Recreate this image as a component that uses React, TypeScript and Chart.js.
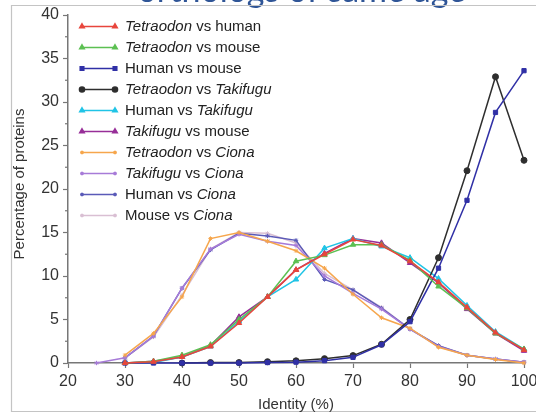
import React, { useEffect, useRef } from 'react';
import { Chart, registerables } from 'chart.js';
import { drawPoint } from 'chart.js/helpers';

Chart.register(...registerables);

const identity = [25, 30, 35, 40, 45, 50, 55, 60, 65, 70, 75, 80, 85, 90, 95, 100];

const tetraodonHuman = [null, 0, 0.15, 0.7, 1.9, 4.6, 7.6, 10.7, 12.5, 14.2, 13.5, 11.7, 9.3, 6.4, 3.5, 1.5];
const tetraodonMouse = [null, 0, 0.2, 0.9, 2.1, 5.0, 7.6, 11.7, 12.4, 13.6, 13.6, 11.8, 8.8, 6.3, 3.4, 1.6];
const humanMouse = [null, 0, 0, 0, 0, 0, 0.05, 0.1, 0.27, 0.65, 2.1, 4.75, 10.9, 18.7, 28.8, 33.6];
const tetraodonTakifugu = [null, null, null, 0, 0.05, 0.05, 0.15, 0.25, 0.5, 0.85, 2.15, 5.0, 12.1, 22.1, 32.9, 23.3];
const humanTakifugu = [null, 0, 0.05, 0.7, 1.9, 4.8, 7.6, 9.6, 13.2, 14.3, 13.4, 12.1, 9.7, 6.6, 3.6, 1.6];
const takifuguMouse = [null, 0, 0.2, 0.7, 2.0, 5.3, 7.6, 10.7, 12.6, 14.3, 13.8, 11.5, 9.2, 6.2, 3.4, 1.4];
const tetraodonCiona = [null, 0.9, 3.4, 7.6, 14.3, 15.0, 14.0, 12.9, 10.9, 7.9, 5.2, 4.0, 1.8, 0.9, 0.4, 0];
const takifuguCiona = [0, 0.6, 3.1, 8.6, 13.1, 14.8, 14.0, 13.5, 10.0, 8.0, 6.2, 3.9, 1.9, 0.9, 0.45, 0.1];
const humanCiona = [null, 0.6, 3.1, 8.6, 13.0, 14.9, 14.6, 14.1, 9.6, 8.4, 6.3, 3.9, 2.0, 0.9, 0.45, 0.1];
const mouseCiona = [null, 0.6, 3.0, 7.8, 13.1, 15.0, 14.9, 13.8, 10.3, 8.4, 6.4, 3.9, 2.0, 0.9, 0.45, 0.1];

const xTicks = [20, 30, 40, 50, 60, 70, 80, 90, 100];
const yTicks = [0, 5, 10, 15, 20, 25, 30, 35, 40];

const seriesValues = [
  tetraodonHuman, tetraodonMouse, humanMouse, tetraodonTakifugu, humanTakifugu,
  takifuguMouse, tetraodonCiona, takifuguCiona, humanCiona, mouseCiona,
];

const seriesNames = [
  'Tetraodon vs human', 'Tetraodon vs mouse', 'Human vs mouse', 'Tetraodon vs Takifugu',
  'Human vs Takifugu', 'Takifugu vs mouse', 'Tetraodon vs Ciona', 'Takifugu vs Ciona',
  'Human vs Ciona', 'Mouse vs Ciona',
];

// legend label parts: [text, italic]
const legendParts: [string, boolean][][] = [
  [['Tetraodon', true], [' vs human', false]],
  [['Tetraodon', true], [' vs mouse', false]],
  [['Human vs mouse', false]],
  [['Tetraodon', true], [' vs ', false], ['Takifugu', true]],
  [['Human vs ', false], ['Takifugu', true]],
  [['Takifugu', true], [' vs mouse', false]],
  [['Tetraodon', true], [' vs ', false], ['Ciona', true]],
  [['Takifugu', true], [' vs ', false], ['Ciona', true]],
  [['Human vs ', false], ['Ciona', true]],
  [['Mouse vs ', false], ['Ciona', true]],
];

const seriesColors = [
  '#E8463C', '#5CC052', '#3030A6', '#2E2E2E', '#20C4E6',
  '#972E98', '#F6A64C', '#A77BD8', '#5A5AB8', '#D9BFD3',
];
const seriesPointStyles = [
  'triangle', 'triangle', 'rect', 'circle', 'triangle',
  'triangle', 'star', 'star', 'star', 'star',
];
const seriesRadius = [3.1, 3.1, 3.0, 3.0, 3.1, 3.1, 2.2, 2.2, 2.2, 2.2];

const FONT = '"Liberation Sans", Arial, Helvetica, sans-serif';

const decorPlugin = {
  id: 'decor',
  beforeDraw(chart: any) {
    const ctx = chart.ctx;
    ctx.save();
    ctx.fillStyle = '#ffffff';
    ctx.fillRect(0, 0, chart.width, chart.height);
    // slide title (cut off at top)
    ctx.fillStyle = '#2F5597';
    ctx.font = '34px Lato, "Open Sans", sans-serif';
    ctx.textBaseline = 'alphabetic';
    ctx.textAlign = 'right';
    ctx.fillText('orthologs of same age', 466, 2);
    // frame
    ctx.strokeStyle = '#c4c4c4';
    ctx.lineWidth = 1.2;
    ctx.beginPath();
    ctx.moveTo(536, 5.5);
    ctx.lineTo(11.5, 5.5);
    ctx.lineTo(11.5, 411.5);
    ctx.lineTo(536, 411.5);
    ctx.stroke();
    ctx.restore();
  },
  afterDraw(chart: any) {
    const ctx = chart.ctx;
    const xs = chart.scales.x;
    const ys = chart.scales.y;
    ctx.save();
    // minor y ticks
    ctx.strokeStyle = '#777';
    ctx.lineWidth = 1.2;
    for (let v = 2.5; v < 40; v += 5) {
      const py = ys.getPixelForValue(v);
      ctx.beginPath();
      ctx.moveTo(xs.left, py);
      ctx.lineTo(xs.left - 3, py);
      ctx.stroke();
    }
    // axis titles
    ctx.fillStyle = '#333';
    ctx.font = `15px ${FONT}`;
    ctx.textAlign = 'center';
    ctx.textBaseline = 'middle';
    ctx.fillText('Identity (%)', 296, 405);
    ctx.translate(20, 184);
    ctx.rotate(-Math.PI / 2);
    ctx.fillText('Percentage of proteins', 0, 0);
    ctx.restore();

    // legend
    ctx.save();
    const x0 = 82, x1 = 115, tx = 125;
    legendParts.forEach((parts, i) => {
      const y = 26.5 + i * 21;
      ctx.strokeStyle = seriesColors[i];
      ctx.fillStyle = seriesColors[i];
      ctx.lineWidth = 1.5;
      ctx.beginPath();
      ctx.moveTo(x0, y);
      ctx.lineTo(x1, y);
      ctx.stroke();
      const opts = { pointStyle: seriesPointStyles[i], radius: seriesRadius[i] * 0.85, rotation: 0, borderWidth: 1 };
      drawPoint(ctx, opts as any, x0, y);
      drawPoint(ctx, opts as any, x1, y);
      let cx = tx;
      ctx.fillStyle = '#222';
      ctx.textAlign = 'left';
      ctx.textBaseline = 'middle';
      parts.forEach(([t, it]) => {
        ctx.font = `${it ? 'italic ' : ''}15px ${FONT}`;
        ctx.fillText(t, cx, y);
        cx += ctx.measureText(t).width;
      });
    });
    ctx.restore();
  },
};

export default function App() {
  const ref = useRef<HTMLCanvasElement | null>(null);
  useEffect(() => {
    document.body.style.margin = '0';
    const canvas = ref.current!;
    const datasets = seriesValues.map((vals, i) => ({
      label: seriesNames[i],
      data: identity.map((x, j) => ({ x, y: vals[j] })),
      borderColor: seriesColors[i],
      backgroundColor: seriesColors[i],
      borderWidth: 1.5,
      pointStyle: seriesPointStyles[i],
      pointRadius: seriesRadius[i],
      pointBorderWidth: 1,
      tension: 0,
      spanGaps: false,
      clip: false as any,
    }));
    const chart = new Chart(canvas, {
      type: 'line',
      data: { datasets },
      options: {
        responsive: false,
        animation: false,
        layout: { padding: { left: 0, right: 12, top: 15, bottom: 0 } },
        plugins: { legend: { display: false }, tooltip: { enabled: false }, title: { display: false } },
        scales: {
          x: {
            type: 'linear',
            min: 20,
            max: 100,
            afterBuildTicks: (s: any) => { s.ticks = xTicks.map((v) => ({ value: v })); },
            afterFit: (s: any) => { s.height = 51; s.paddingLeft = 0; s.paddingRight = 0; },
            ticks: { color: '#333', font: { family: FONT, size: 16 }, padding: 4, maxRotation: 0, autoSkip: false },
            grid: { drawOnChartArea: false, drawTicks: true, tickLength: 5, tickColor: '#777', tickWidth: 1.2 },
            border: { color: '#777', width: 1.5 },
          },
          y: {
            type: 'linear',
            min: 0,
            max: 40,
            afterBuildTicks: (s: any) => { s.ticks = yTicks.map((v) => ({ value: v })); },
            afterFit: (s: any) => { s.width = 68; s.paddingTop = 0; s.paddingBottom = 0; },
            ticks: { color: '#333', font: { family: FONT, size: 16 }, padding: 4, autoSkip: false },
            grid: { drawOnChartArea: false, drawTicks: true, tickLength: 5, tickColor: '#777', tickWidth: 1.2 },
            border: { color: '#777', width: 1.5 },
          },
        },
      },
      plugins: [decorPlugin],
    });
    return () => chart.destroy();
  }, []);
  return (
    <div style={{ position: 'fixed', left: 0, top: 0, width: 536, height: 414 }}>
      <canvas ref={ref} width={536} height={414} />
    </div>
  );
}
